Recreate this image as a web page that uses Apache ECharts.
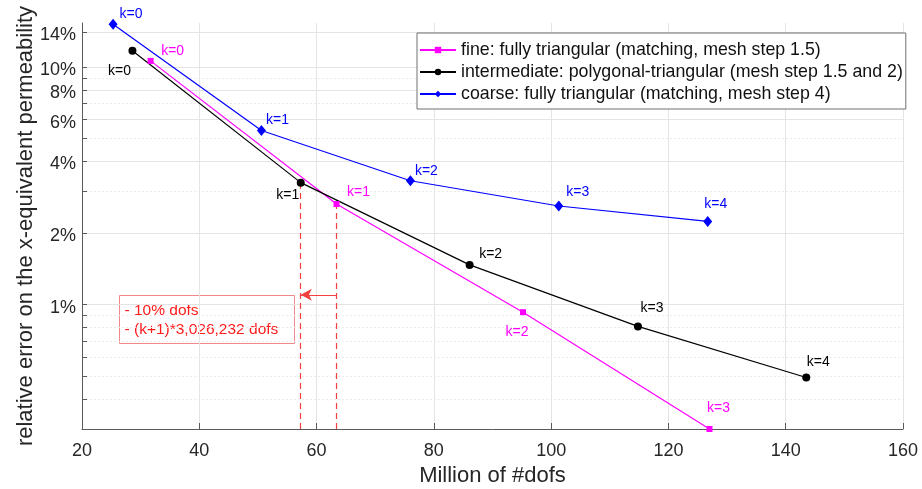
<!DOCTYPE html>
<html><head><meta charset="utf-8">
<script src="https://cdn.jsdelivr.net/npm/echarts@6/dist/echarts.min.js"></script>
<style>html,body{margin:0;padding:0;background:#fff}#c{width:922px;height:489px}</style>
</head><body><div id="c"></div>
<script>
// ---- data ----
const kLabels = ['k=0', 'k=1', 'k=2', 'k=3', 'k=4'];
const seriesNames = [
  'fine: fully triangular (matching, mesh step 1.5)',
  'intermediate: polygonal-triangular (mesh step 1.5 and 2)',
  'coarse: fully triangular (matching, mesh step 4)'
];
const fineX = [31.7, 63.4, 95.2, 127.0];
const fineY = [10.6, 2.65, 0.93, 0.30];
const interX = [28.6, 57.3, 86.1, 114.8, 143.5];
const interY = [11.7, 3.26, 1.47, 0.81, 0.494];
const coarseX = [25.3, 50.6, 76.0, 101.3, 126.7];
const coarseY = [15.1, 5.40, 3.32, 2.60, 2.24];
const yMajorTicks = [1, 2, 4, 6, 8, 10, 14];
const yMinorTicks = [0.4, 0.5, 0.6, 0.7, 0.8, 0.9, 3, 5, 7, 9];
const arrowY = 1.1;
const noteLines = ['- 10% dofs', '- (k+1)*3,026,232 dofs'];

// ---- styles ----
const FONT = '"Liberation Sans", Arial, sans-serif';
const fineOff = [[22, -10], [22, -12], [-6, 20], [9, -21]];
const interOff = [[-13, 20], [-13, 12], [21, -11], [14, -18], [12, -15]];
const coarseOff = [[18, -10], [16, -10], [16, -10], [19, -14], [8, -17]];
const RED = '#f0403f';

function build(xs, ys, offs) {
  return xs.map((x, i) => ({ value: [x, ys[i]], label: { offset: offs[i] } }));
}
function mkSeries(name, xs, ys, offs, color, symbol, size) {
  return {
    name, type: 'line', data: build(xs, ys, offs), clip: false, z: 3,
    symbol, symbolSize: size, showAllSymbol: true,
    lineStyle: { color, width: 1.2 }, itemStyle: { color },
    label: { show: true, position: 'inside', color, fontSize: 14, fontFamily: FONT,
      formatter: p => kLabels[p.dataIndex] },
    emphasis: { disabled: true }, animation: false
  };
}
const gridLines = []
  .concat(yMajorTicks.map(v => ({ yAxis: v, lineStyle: { color: '#e4e4e4', type: 'solid', width: 1 } })))
  .concat(yMinorTicks.map(v => ({ yAxis: v, lineStyle: { color: '#ebebeb', type: [2, 2], width: 1 } })));

const chart = echarts.init(document.getElementById('c'), null, { renderer: 'canvas' });
chart.setOption({
  animation: false,
  backgroundColor: '#fff',
  grid: { left: 82, right: 19, top: 23, bottom: 60, containLabel: false, outerBoundsMode: 'none' },
  legend: {
    data: seriesNames, orient: 'vertical', left: 417, top: 33,
    itemWidth: 36, itemHeight: 8, itemGap: 4,
    padding: [8, 3, 6, 2],
    borderColor: '#707070', borderWidth: 1, backgroundColor: '#fff',
    textStyle: { fontSize: 17.8, lineHeight: 18, fontFamily: FONT, color: '#111' },
    selectedMode: false
  },
  xAxis: {
    type: 'value', min: 20, max: 160, interval: 20,
    name: 'Million of #dofs', nameLocation: 'middle', nameGap: 36, nameMoveOverlap: false,
    nameTextStyle: { fontSize: 22, fontFamily: FONT, color: '#262626', verticalAlign: 'top' },
    axisLine: { lineStyle: { color: '#5a5a5a', width: 1 } },
    axisTick: { inside: true, length: 6, lineStyle: { color: '#5a5a5a' } },
    axisLabel: { fontSize: 18, fontFamily: FONT, color: '#262626', margin: 13 },
    splitLine: { show: true, lineStyle: { color: '#e4e4e4', width: 1 } }
  },
  yAxis: {
    type: 'log', logBase: 10, min: 0.3, max: 15.3,
    name: 'relative error on the x-equivalent permeability', nameLocation: 'middle', nameGap: 45, nameMoveOverlap: false,
    nameTextStyle: { fontSize: 22, fontFamily: FONT, color: '#262626' },
    axisLine: { show: true, lineStyle: { color: '#5a5a5a', width: 1 } },
    axisTick: { show: true, inside: true, length: 5, customValues: yMajorTicks.concat(yMinorTicks), lineStyle: { color: '#5a5a5a' } },
    axisLabel: { fontSize: 18, fontFamily: FONT, color: '#262626', margin: 6,
      verticalAlign: 'top', lineHeight: 6,
      customValues: yMajorTicks, formatter: v => Math.round(v) + '%' },
    splitLine: { show: false },
    minorTick: { show: false }, minorSplitLine: { show: false }
  },
  series: [
    {
      name: 'grid', type: 'line', data: [], z: 0, silent: true, animation: false,
      markLine: { z: 0, silent: true, symbol: ['none', 'none'], label: { show: false }, animation: false, data: gridLines }
    },
    mkSeries(seriesNames[0], fineX, fineY, fineOff, '#ff00ff', 'rect', 6),
    mkSeries(seriesNames[1], interX, interY, interOff, '#000000', 'circle', 8),
    mkSeries(seriesNames[2], coarseX, coarseY, coarseOff, '#0000ff', 'diamond', [9, 11]),
    {
      name: 'annot', type: 'line', data: [], z: 2, silent: true, animation: false,
      markLine: {
        z: 2, silent: true, animation: false, label: { show: false },
        data: [
          [{ coord: [interX[1], 0.3], symbol: 'none' }, { coord: [interX[1], interY[1]], symbol: 'none' }],
          [{ coord: [fineX[1], 0.3], symbol: 'none' }, { coord: [fineX[1], fineY[1]], symbol: 'none' }],
          [{ coord: [fineX[1], arrowY], symbol: 'none', lineStyle: { type: 'solid' } },
           { coord: [interX[1], arrowY], symbol: 'arrow', symbolSize: [9, 11] }]
        ],
        lineStyle: { color: RED, type: [6, 4], width: 1.2 },
        itemStyle: { color: '#ff0000' }
      }
    }
  ],
  graphic: [{
    type: 'group', left: 119, top: 295, z: 10,
    children: [
      { type: 'rect', shape: { x: 0, y: 0, width: 175, height: 48 },
        style: { fill: '#fff', stroke: '#f08a8a', lineWidth: 1 } },
      { type: 'text', x: 5, y: 15, style: { text: noteLines[0], fill: '#ff1a1a', font: '15.5px ' + FONT, textVerticalAlign: 'middle' } },
      { type: 'text', x: 5, y: 34, style: { text: noteLines[1], fill: '#ff1a1a', font: '15.5px ' + FONT, textVerticalAlign: 'middle' } }
    ]
  }]
});
</script>
</body></html>
